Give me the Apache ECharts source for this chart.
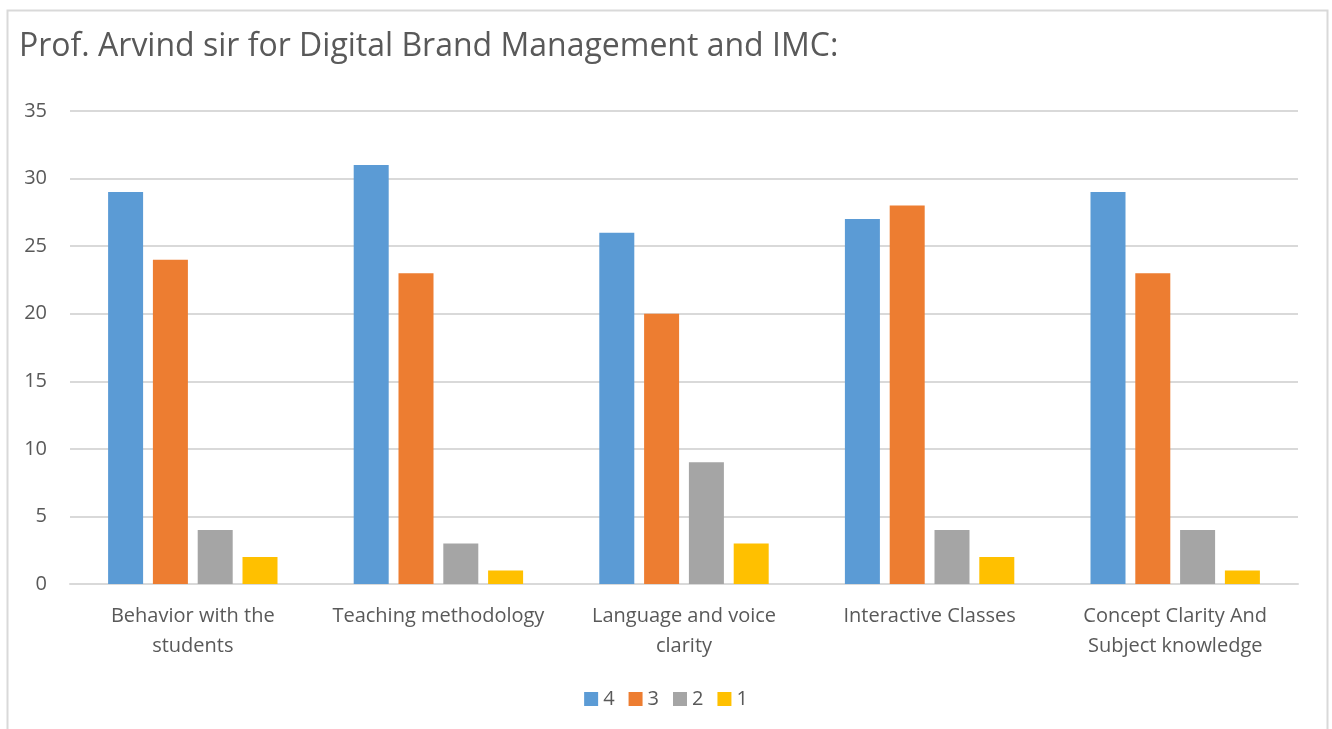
<!DOCTYPE html>
<html><head><meta charset="utf-8">
<script src="https://cdn.jsdelivr.net/npm/echarts@6/dist/echarts.min.js"></script>
<style>html,body{margin:0;padding:0;background:#fff}#c{width:1332px;height:729px}</style>
</head><body><div id="c"></div>
<script>
const categories = ["Behavior with the\nstudents", "Teaching methodology", "Language and voice\nclarity", "Interactive Classes", "Concept Clarity And\nSubject knowledge"];
const seriesNames = ["4", "3", "2", "1"];
const s4 = [29, 31, 26, 27, 29];
const s3 = [24, 23, 20, 28, 23];
const s2 = [4, 3, 9, 4, 4];
const s1 = [2, 1, 3, 2, 1];
const yTicks = [0, 5, 10, 15, 20, 25, 30, 35];
const colors = ["#5B9BD5", "#ED7D31", "#A5A5A5", "#FFC000"];
const font = "'Open Sans', 'Noto Sans', sans-serif";
const chart = echarts.init(document.getElementById('c'));
const data = [s4, s3, s2, s1];
chart.setOption({
  animation: false,
  color: colors,
  graphic: [{type: 'rect', shape: {x: 7.5, y: 10.5, width: 1320, height: 740}, style: {fill: 'none', stroke: '#D9D9D9', lineWidth: 2}}],
  title: {text: "Prof. Arvind sir for Digital Brand Management and IMC:", left: 14, top: 26,
    textStyle: {fontFamily: font, fontSize: 32, fontWeight: 'normal', color: '#595959'}},
  legend: {bottom: 15, left: 'center', itemWidth: 14, itemHeight: 14, itemGap: 14, icon: 'rect',
    textStyle: {fontFamily: font, fontSize: 20, color: '#595959', padding: [0, 0, 0, 0]}, data: seriesNames},
  grid: {left: 70, right: 34, top: 111, bottom: 145, containLabel: false},
  xAxis: {type: 'category', data: categories,
    axisLine: {lineStyle: {color: '#D9D9D9', width: 2}}, axisTick: {show: false},
    axisLabel: {fontFamily: font, fontSize: 20, color: '#595959', margin: 17, lineHeight: 30, interval: 0}},
  yAxis: {type: 'value', min: yTicks[0], max: yTicks[yTicks.length - 1], interval: 5,
    axisLine: {show: false}, axisTick: {show: false},
    splitLine: {lineStyle: {color: '#D9D9D9', width: 2}},
    axisLabel: {fontFamily: font, fontSize: 20, color: '#595959', margin: 23}},
  series: seriesNames.map((n, i) => ({name: n, type: 'bar', data: data[i], barWidth: 35, barGap: '28%'}))
});
</script></body></html>
